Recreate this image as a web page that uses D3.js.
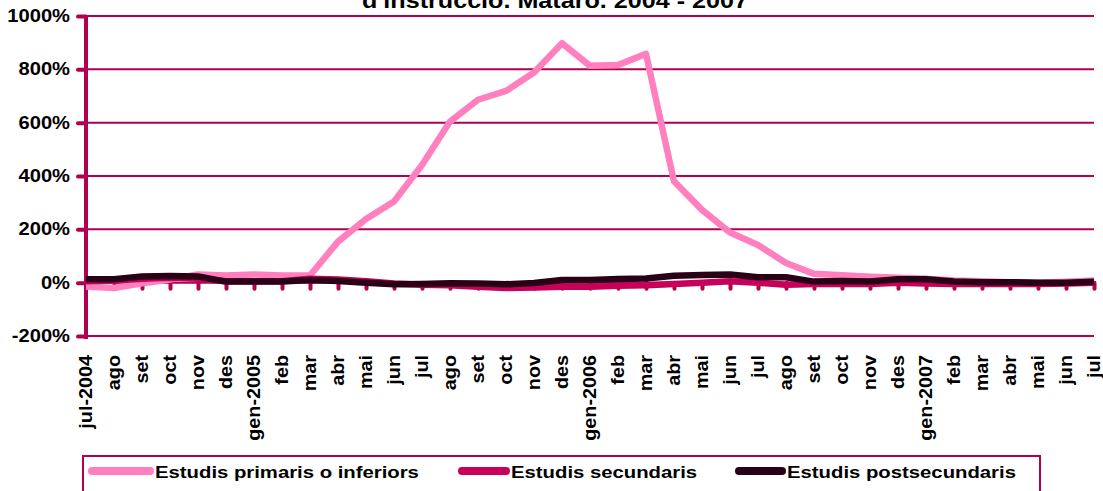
<!DOCTYPE html>
<html>
<head>
<meta charset="utf-8">
<script src="https://cdn.jsdelivr.net/npm/d3@7"></script>
<style>
  body { margin: 0; background: #fff; }
  svg { display: block; font-family: Arial, "Liberation Sans", sans-serif; }
</style>
</head>
<body>
<svg width="1103" height="491"></svg>
<script>
// month labels, jul-2004 .. jul-2007
const months = ["jul-2004","ago","set","oct","nov","des","gen-2005","feb","mar","abr","mai","jun",
  "jul","ago","set","oct","nov","des","gen-2006","feb","mar","abr","mai","jun",
  "jul","ago","set","oct","nov","des","gen-2007","feb","mar","abr","mai","jun","jul"];

// variation (%) by level of studies
const primaris = [-14,-20,-2,12,31,27,31,27,27,154,239,304,441,604,686,719,788,898,813,816,858,
  380,273,188,141,74,33,28,22,18,15,8,5,2,0,3,8];
const secundaris = [5,8,15,18,15,5,5,5,15,12,5,-3,-8,-10,-15,-20,-18,-15,-15,-12,-10,
  -5,0,5,0,-8,-5,-5,-5,0,-3,-5,-5,-5,-5,-3,0];
const postsecundaris = [13,13,23,25,23,4,4,4,10,6,0,-6,-5,-2,-3,-6,-1,10,10,14,16,
  26,29,31,20,20,4,6,4,13,13,4,2,2,0,0,3];

const yTicks = [-200, 0, 200, 400, 600, 800, 1000];
const seriesNames = ["Estudis primaris o inferiors", "Estudis secundaris", "Estudis postsecundaris"];
const seriesColors = ["#ff7fbf", "#c8005a", "#2a0016"];

const axisColor = "#b0004f";
const svg = d3.select("svg");

// the original text is a bit wider than plain Arial, stretch it
function stretch(sel, k) {
  sel.each(function() {
    const w = this.getComputedTextLength();
    d3.select(this)
      .attr("textLength", w * k)
      .attr("lengthAdjust", "spacingAndGlyphs");
  });
}

const x = d3.scalePoint().domain(d3.range(months.length)).range([86, 1094]);
const y = d3.scaleLinear().domain([-200, 1000]).range([336, 16]);

// title (first line is outside the picture)
svg.append("text")
   .attr("x", 555)
   .attr("y", 8)
   .attr("text-anchor", "middle")
   .attr("font-size", "22px")
   .attr("font-weight", "bold")
   .attr("textLength", 386)
   .attr("lengthAdjust", "spacingAndGlyphs")
   .text("d'instrucció. Mataró. 2004 - 2007");

// gridlines
svg.append("g")
   .selectAll("line")
   .data(yTicks)
   .join("line")
   .attr("x1", x.range()[0])
   .attr("x2", x.range()[1])
   .attr("y1", d => y(d))
   .attr("y2", d => y(d))
   .attr("stroke", axisColor)
   .attr("stroke-width", 2);

// y axis
const yAxis = svg.append("g")
   .attr("transform", `translate(${x.range()[0]},0)`)
   .call(d3.axisLeft(y).tickValues(yTicks).tickSize(8).tickFormat(d => d + "%"));
yAxis.select(".domain")
   .attr("d", `M0,${y(1000)}V${y(-200) + 3}`)
   .attr("stroke", axisColor)
   .attr("stroke-width", 4);
yAxis.selectAll(".tick line")
   .attr("stroke", axisColor)
   .attr("stroke-width", 4)
   .attr("stroke-linecap", "round");
yAxis.selectAll(".tick text")
   .attr("x", -16)
   .attr("fill", "#000")
   .attr("font-size", "17.5px")
   .attr("font-weight", "bold")
   .attr("font-family", "Arial, 'Liberation Sans', sans-serif")
   .call(stretch, 1.15);

// x axis ticks along 0%
const xAxis = svg.append("g")
   .attr("transform", `translate(0,${y(0)})`)
   .call(d3.axisBottom(x).tickSize(6).tickFormat(""));
xAxis.select(".domain").remove();
xAxis.selectAll(".tick line")
   .attr("stroke", axisColor)
   .attr("stroke-width", 4)
   .attr("stroke-linecap", "round");

// rotated month labels
svg.append("g")
   .selectAll("text")
   .data(months)
   .join("text")
   .attr("transform", (d, i) => `translate(${x(i)},355) rotate(-90)`)
   .attr("dy", "0.35em")
   .attr("text-anchor", "end")
   .attr("font-size", "17.5px")
   .attr("font-weight", "bold")
   .text(d => d)
   .call(stretch, 1.13);

// series lines
const line = d3.line()
   .x((d, i) => x(i))
   .y(d => y(d));

[primaris, secundaris, postsecundaris].forEach((values, k) => {
  svg.append("path")
     .datum(values)
     .attr("d", line)
     .attr("fill", "none")
     .attr("stroke", seriesColors[k])
     .attr("stroke-width", 6.5)
     .attr("stroke-linejoin", "round");
});

// legend
svg.append("rect")
   .attr("x", 83)
   .attr("y", 456)
   .attr("width", 957)
   .attr("height", 40)
   .attr("fill", "none")
   .attr("stroke", axisColor)
   .attr("stroke-width", 2);

const legendX = [[92, 154], [462, 510], [739, 786]];
const legend = svg.append("g")
   .selectAll("g")
   .data(seriesNames)
   .join("g");
legend.append("line")
   .attr("x1", (d, i) => legendX[i][0])
   .attr("x2", (d, i) => legendX[i][1] - 4)
   .attr("y1", 471)
   .attr("y2", 471)
   .attr("stroke", (d, i) => seriesColors[i])
   .attr("stroke-width", 8)
   .attr("stroke-linecap", "round");
legend.append("text")
   .attr("x", (d, i) => legendX[i][1] + 1)
   .attr("y", 478)
   .attr("font-size", "16.5px")
   .attr("font-weight", "bold")
   .text(d => d)
   .call(stretch, 1.23);
</script>
</body>
</html>
